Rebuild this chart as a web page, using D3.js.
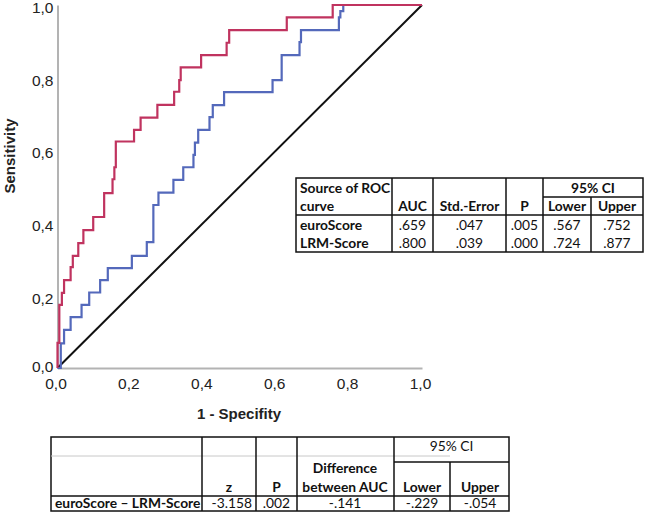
<!DOCTYPE html>
<html><head><meta charset="utf-8">
<script src="https://cdn.jsdelivr.net/npm/d3@7"></script>
<style>
html,body{margin:0;padding:0;background:#fff;}
svg{display:block;}
</style></head>
<body>
<svg id="chart" width="650" height="513"></svg>
<script>
// ---- ROC data (1 - specificity, sensitivity) ----
const lrmFpr  = [0, 0, 0.005, 0.012, 0.018, 0.036, 0.042, 0.057, 0.071, 0.098, 0.128, 0.151, 0.156, 0.160, 0.210, 0.228, 0.274, 0.320, 0.334, 0.338, 0.394, 0.464, 0.471, 0.629, 0.755, 1];
const lrmTpr  = [0, 0.069, 0.174, 0.207, 0.242, 0.278, 0.309, 0.344, 0.380, 0.416, 0.482, 0.520, 0.553, 0.624, 0.656, 0.690, 0.725, 0.761, 0.793, 0.828, 0.862, 0.896, 0.931, 0.966, 1.0, 1];
const euroFpr = [0, 0.009, 0.018, 0.036, 0.066, 0.087, 0.117, 0.138, 0.204, 0.245, 0.263, 0.277, 0.318, 0.345, 0.373, 0.377, 0.386, 0.417, 0.426, 0.457, 0.590, 0.615, 0.664, 0.668, 0.772, 0.776, 0.784, 1];
const euroTpr = [0, 0.068, 0.105, 0.140, 0.174, 0.208, 0.242, 0.275, 0.309, 0.347, 0.449, 0.483, 0.518, 0.553, 0.587, 0.621, 0.656, 0.691, 0.724, 0.760, 0.793, 0.862, 0.898, 0.931, 0.966, 0.983, 1.0, 1];
const refLine = [0, 1];
const axisTicks = [0, 0.2, 0.4, 0.6, 0.8, 1.0];

// ---- AUC table ----
const aucHeader = ["AUC", "Std.-Error", "P", "Lower", "Upper"];
const aucSources = ["euroScore", "LRM-Score"];
const aucValues = [".659", ".800"];
const aucSE = [".047", ".039"];
const aucP = [".005", ".000"];
const aucLower = [".567", ".724"];
const aucUpper = [".752", ".877"];

// ---- comparison table ----
const cmpHeader = ["z", "P", "Lower", "Upper"];
const cmpLabel = "euroScore – LRM-Score";
const cmpZ = "-3.158";
const cmpP = ".002";
const cmpDiff = "-.141";
const cmpLower = "-.229";
const cmpUpper = "-.054";

const svg = d3.select("#chart");
const x = d3.scaleLinear().domain([0, 1]).range([57.5, 422]);
const y = d3.scaleLinear().domain([0, 1]).range([368, 5]);
const loc = d3.formatLocale({decimal: ",", thousands: ".", grouping: [3], currency: ["", ""]});
const fmt = loc.format(".1f");
const axisFont = "'Liberation Sans', Arial, sans-serif";

// axes
const gx = svg.append("g").attr("transform", `translate(0,${y(0)})`)
  .call(d3.axisBottom(x).tickValues(axisTicks).tickFormat(fmt).tickSize(0).tickPadding(10));
const gy = svg.append("g").attr("transform", `translate(${x(0)},0)`)
  .call(d3.axisLeft(y).tickValues(axisTicks).tickFormat(fmt).tickSize(0).tickPadding(4));
[gx, gy].forEach(g => {
  g.select(".domain").attr("stroke", "#b3b3b3").attr("stroke-width", 2);
  g.selectAll("text").attr("font-family", axisFont).attr("font-size", 15.5).attr("fill", "#222");
});
gx.selectAll("text").attr("dx", -2);
gy.selectAll("text").attr("dy", d => d === 0 ? "0.2em" : "0.5em");

// reference diagonal
svg.append("path")
  .attr("d", d3.line().x(d => x(d)).y(d => y(d))(refLine))
  .attr("stroke", "#111").attr("stroke-width", 2).attr("fill", "none");

const stepLine = d3.line().x(d => x(d[0])).y(d => y(d[1])).curve(d3.curveStepAfter);
svg.append("path")
  .attr("d", stepLine(d3.zip(euroFpr, euroTpr)))
  .attr("stroke", "#5469bb").attr("stroke-width", 2.2).attr("fill", "none");
svg.append("path")
  .attr("d", stepLine(d3.zip(lrmFpr, lrmTpr)))
  .attr("stroke", "#c0335f").attr("stroke-width", 2.2).attr("fill", "none");

// axis titles
svg.append("text").attr("x", 239).attr("y", 419).attr("text-anchor", "middle")
  .attr("font-family", axisFont).attr("font-size", 15).attr("font-weight", "bold").attr("fill", "#222")
  .text("1 - Specifity");
svg.append("text").attr("transform", "translate(15,156) rotate(-90)").attr("text-anchor", "middle")
  .attr("font-family", axisFont).attr("font-size", 15).attr("font-weight", "bold").attr("fill", "#222")
  .text("Sensitivity");

// ---- tables ----
const tFont = "Lato, 'Open Sans', sans-serif";
const tSize = 13.8;
function line(x1, y1, x2, y2, col, w) {
  svg.append("line").attr("x1", x1).attr("y1", y1).attr("x2", x2).attr("y2", y2)
    .attr("stroke", col || "#111").attr("stroke-width", w || 1.5);
}
function txt(s, xx, yy, anchor, bold) {
  svg.append("text").attr("x", xx).attr("y", yy).attr("text-anchor", anchor)
    .attr("font-family", tFont).attr("font-size", tSize).attr("font-weight", bold ? "bold" : "normal")
    .attr("fill", "#111").text(s);
}

// table 1
const t1 = {l: 296, r: 643, t: 178, b: 252, mid: 215, ci: 197, cols: [392, 433, 506, 543, 591]};
svg.append("rect").attr("x", t1.l).attr("y", t1.t).attr("width", t1.r - t1.l).attr("height", t1.b - t1.t)
  .attr("fill", "#fff").attr("stroke", "#111").attr("stroke-width", 1.5);
line(t1.l, t1.mid, t1.r, t1.mid);
line(t1.cols[3], t1.ci, t1.r, t1.ci);
t1.cols.forEach((c, i) => line(c, i === 4 ? t1.ci : t1.t, c, t1.b));
const t1Centers = [412.5, 469.5, 524.5, 567, 617];
txt("Source of ROC", 300, 193, "start", true);
txt("curve", 300, 211, "start", true);
txt("95% CI", (t1.cols[3] + t1.r) / 2, 193, "middle", true);
aucHeader.forEach((h, i) => txt(h, t1Centers[i], 211, "middle", true));
aucSources.forEach((s, r) => {
  const yy = 230 + r * 18;
  txt(s, 300, yy, "start", true);
  [aucValues[r], aucSE[r], aucP[r], aucLower[r], aucUpper[r]].forEach((v, i) => txt(v, t1Centers[i], yy, "middle", false));
});

// table 2
const t2 = {l: 51, r: 509, t: 437, b: 511, mid: 496, ci: 462, cols: [202, 256, 297, 394, 450]};
svg.append("rect").attr("x", t2.l).attr("y", t2.t).attr("width", t2.r - t2.l).attr("height", t2.b - t2.t)
  .attr("fill", "#fff").attr("stroke", "#111").attr("stroke-width", 1.5);
line(t2.l, 456, t2.cols[4], 456, "#c8c8c8", 1);
line(t2.l, t2.mid, t2.r, t2.mid);
line(t2.cols[3], t2.ci, t2.r, t2.ci);
t2.cols.forEach((c, i) => line(c, i === 4 ? t2.ci : t2.t, c, t2.b));
txt("95% CI", (t2.cols[3] + t2.r) / 2, 451, "middle", false);
txt("Difference", 345, 473, "middle", true);
txt("between AUC", 345, 492, "middle", true);
const t2Centers = [229, 276.5, 422, 480];
cmpHeader.forEach((h, i) => txt(h, t2Centers[i], 492, "middle", true));
txt(cmpLabel, 55, 508, "start", true);
txt(cmpZ, 252, 508, "end", false);
txt(cmpP, 276.5, 508, "middle", false);
txt(cmpDiff, 345, 508, "middle", false);
txt(cmpLower, 422, 508, "middle", false);
txt(cmpUpper, 480, 508, "middle", false);
</script>
</body></html>
